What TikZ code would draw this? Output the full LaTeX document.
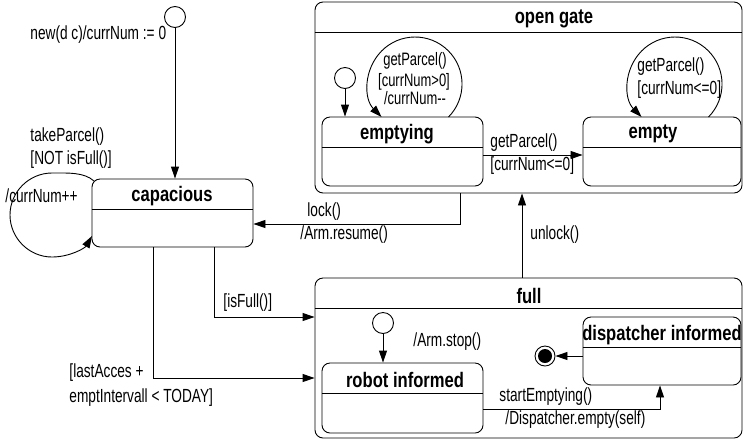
\documentclass[tikz,border=0pt]{standalone}
\usepackage{fontspec}
\setmainfont{Liberation Sans}
\newfontfamily\lblfont[FakeStretch=0.72]{Liberation Sans}
\newfontfamily\ttlfont[FakeStretch=0.79]{Liberation Sans}
\usetikzlibrary{arrows.meta}

\begin{document}
\begin{tikzpicture}[x=1pt, y=-1pt, line width=0.9pt,
  >={Triangle[length=12pt,width=8pt]},
  statebox/.style={draw, rounded corners=8pt, inner sep=0pt},
  initstate/.style={draw, circle, fill=white, minimum size=21pt, inner sep=0pt},
  lbl/.style={font=\lblfont\fontsize{19}{22}\selectfont, inner sep=0pt, anchor=west},
  clbl/.style={font=\lblfont\fontsize{18}{21}\selectfont, inner sep=0pt},
  ttl/.style={font=\ttlfont\bfseries\fontsize{21}{24}\selectfont, inner sep=0pt}]

\useasboundingbox (0,0) rectangle (743,440);

% ---------- composite state: open gate ----------
\node[statebox, minimum width=427pt, minimum height=191pt] (og) at (528.5,97.5) {};
\draw (og.west |- 0,32) -- (og.east |- 0,32);
\node[ttl] (ogT) at (554,19) {open gate};

\node[statebox, minimum width=161pt, minimum height=69pt] (emptying) at (402.5,151.5) {};
\draw (emptying.west |- 0,147) -- (emptying.east |- 0,147);
\node[ttl] (emptyingT) at (397,134) {emptying};

\node[statebox, minimum width=158pt, minimum height=69pt] (empty) at (662,151.5) {};
\draw (empty.west |- 0,147) -- (empty.east |- 0,147);
\node[ttl] (emptyT) at (653,134) {empty};

\node[initstate] (ogInit) at (345,78) {};
\draw[->] (ogInit) -- (ogInit |- emptying.north);

% self-loop on emptying
\coordinate (emLoop) at (448.5,117);
\draw[->] (emLoop) arc[start angle=-44.6, end angle=224.6, radius=47pt];
\node[clbl] (emL1) at (415,61) {getParcel()};
\node[clbl] (emL2) at (414,82) {[currNum>0]};
\node[clbl] (emL3) at (415,98) {/currNum--};

% self-loop on empty
\coordinate (epLoop) at (708.5,117);
\draw[->] (epLoop) arc[start angle=-44.6, end angle=224.6, radius=47pt];
\node[lbl] (epL1) at (637,67) {getParcel()};
\node[lbl] (epL2) at (637,90) {[currNum<=0]};

% emptying -> empty
\draw[->] ([yshift=-3.5pt]emptying.east) -- ([yshift=-3.5pt]empty.west);
\node[lbl] (eeL1) at (490,143) {getParcel()};
\node[lbl] (eeL2) at (490,166) {[currNum<=0]};

% ---------- composite state: full ----------
\node[statebox, minimum width=427pt, minimum height=160pt] (full) at (528.5,358) {};
\draw (full.west |- 0,308) -- (full.east |- 0,308);
\node[ttl] (fullT) at (529,296) {full};

\node[statebox, minimum width=161pt, minimum height=70pt] (robot) at (402.5,398) {};
\draw (robot.west |- 0,393) -- (robot.east |- 0,393);
\node[ttl] (robotT) at (405,380) {robot informed};

\node[statebox, minimum width=158pt, minimum height=68pt] (disp) at (662,351) {};
\draw (disp.west |- 0,347) -- (disp.east |- 0,347);
\node[ttl] (dispT) at (662,335) {dispatcher informed};

\node[initstate] (fullInit) at (383,323) {};
\draw[->] (fullInit) -- (fullInit |- robot.north);
\node[lbl] (stopL) at (413,342) {/Arm.stop()};

\node[draw, circle, minimum size=20pt, inner sep=0pt] (fin) at (545,356) {};
\node[circle, fill, minimum size=14pt, inner sep=0pt] (finIn) at (fin) {};
\draw[->] ([yshift=-5pt]disp.west) -- (fin);

\draw[->] ([yshift=-11pt]robot.east) -| ([xshift=-2pt]disp.south);
\node[lbl] (seL1) at (499,397) {startEmptying()};
\node[lbl] (seL2) at (505,420) {/Dispatcher.empty(self)};

% ---------- state: capacious ----------
\node[statebox, minimum width=161pt, minimum height=68pt] (cap) at (172.5,213) {};
\draw (cap.west |- 0,209) -- (cap.east |- 0,209);
\node[ttl] (capT) at (172,196) {capacious};

\node[initstate] (topInit) at (175,17) {};
\draw[->] (topInit) -- (topInit |- cap.north);
\node[lbl] (newL) at (30,35) {new(d c)/currNum := 0};

% self-loop on capacious
\coordinate (capLoopS) at (94,181);
\coordinate (capLoopE) at (92,236);
\draw[->] (capLoopS) .. controls (84,172) and (68,173) .. (52,173)
          .. controls (29,173) and (10,192) .. (10,215)
          .. controls (10,238) and (29,257) .. (52,257)
          .. controls (70,257) and (85,248) .. (capLoopE);
\node[lbl] (tpL1) at (30,137) {takeParcel()};
\node[lbl] (tpL2) at (30,160) {[NOT isFull()]};
\node[lbl] (tpL3) at (5,196) {/currNum++};

% open gate -> capacious
\coordinate (lockX) at (460,0);
\draw[->] (og.south -| lockX) |- ([yshift=-11pt]cap.east);
\node[lbl] (lockL1) at (307,212) {lock()};
\node[lbl] (lockL2) at (300,235) {/Arm.resume()};

% full -> open gate
\coordinate (unlockX) at (522,0);
\draw[->] (full.north -| unlockX) -- (og.south -| unlockX);
\node[lbl] (unlockL) at (530,235) {unlock()};

% capacious -> full
\coordinate (fullX) at (214,0);
\draw[->] (cap.south -| fullX) |- ([yshift=41pt]full.west);
\node[lbl] (fullL) at (223,303) {[isFull()]};

\coordinate (lastX) at (153,0);
\draw[->] (cap.south -| lastX) |- ([yshift=-20pt]full.west);
\node[lbl] (lastL1) at (69,373) {[lastAcces +};
\node[lbl] (lastL2) at (69,398) {emptIntervall < TODAY]};
\end{tikzpicture}
\end{document}
